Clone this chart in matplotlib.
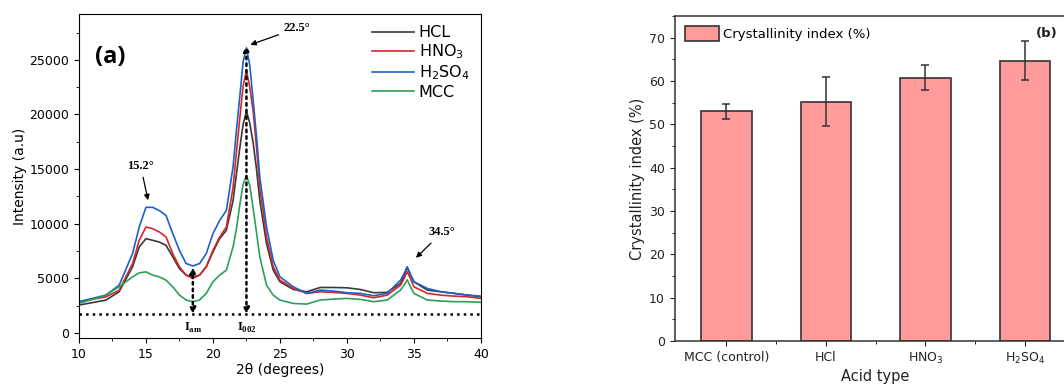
import numpy as np
import matplotlib
matplotlib.use('Agg')
import matplotlib.pyplot as plt
from matplotlib.ticker import MultipleLocator

# ---- XRD patterns (2theta in degrees, intensity in a.u.) ----
two_theta = [10, 12, 13, 14, 14.5, 15, 15.5, 16, 16.5, 17, 17.5, 18, 18.5, 19,
             19.5, 20, 20.5, 21, 21.5, 21.75, 22, 22.25, 22.5, 22.75, 23, 23.25,
             23.5, 24, 24.5, 25, 26, 27, 28, 29, 30, 31, 32, 33, 34, 34.25, 34.5,
             34.75, 35, 36, 37, 38, 39, 40]

hcl = [2550, 3000, 3770, 6050, 7870, 8630, 8480, 8320, 8020, 6960, 5890, 5290,
       5130, 5290, 6050, 7410, 8630, 9390, 12100, 14500, 16900, 19100, 20300,
       19200, 17400, 15000, 12100, 8170, 5740, 4680, 3980, 3770, 4160, 4160,
       4130, 3980, 3680, 3710, 4530, 5200, 6000, 5300, 4680, 3920, 3770, 3620,
       3460, 3310]

hno3 = [2850, 3300, 3900, 6350, 8480, 9700, 9540, 9240, 8780, 7260, 6050, 5290,
        4980, 5290, 6050, 7560, 8780, 9700, 13300, 16500, 19600, 22600, 24000,
        22500, 20300, 17000, 13300, 8780, 6050, 4830, 4070, 3620, 3770, 3710,
        3620, 3460, 3220, 3460, 4370, 4950, 5600, 4950, 4220, 3620, 3460, 3370,
        3310, 3160]

h2so4 = [2860, 3460, 4370, 7260, 9700, 11500, 11500, 11200, 10750, 9100, 7560,
         6350, 6130, 6350, 7260, 9080, 10300, 11200, 15200, 18500, 21600,
         24800, 26100, 24500, 21300, 18000, 14250, 9700, 6650, 5130, 4220, 3620,
         3920, 3830, 3680, 3620, 3400, 3620, 4830, 5400, 6050, 5300, 4680, 4070,
         3770, 3620, 3460, 3370]

mcc = [2700, 3460, 4220, 5130, 5500, 5590, 5290, 5130, 4830, 4220, 3460, 3010,
       2860, 3010, 3620, 4680, 5290, 5740, 7870, 9500, 11700, 13600, 14400,
       13500, 11400, 9200, 6960, 4370, 3460, 3010, 2700, 2640, 3010, 3100, 3160,
       3070, 2860, 3010, 3920, 4350, 4850, 4200, 3620, 3010, 2920, 2860, 2860,
       2800]

baseline = 1750
i_am_top = 6000
i_002_top = 26300

# ---- crystallinity index ----
acids = ['MCC (control)', 'HCl', 'HNO$_3$', 'H$_2$SO$_4$']
ci = [53.0, 55.2, 60.7, 64.7]
ci_err = [1.7, 5.6, 2.9, 4.4]

fig = plt.figure(figsize=(10.64, 3.87), dpi=100)

# ---------------- panel (a) ----------------
ax = fig.add_axes([0.0742, 0.127, 0.3778, 0.837])
ax.plot(two_theta, hcl, color='#3a3a3a', lw=1.2, label='HCL')
ax.plot(two_theta, hno3, color='#d62728', lw=1.2, label='HNO$_3$')
ax.plot(two_theta, h2so4, color='#1f5fc8', lw=1.2, label='H$_2$SO$_4$')
ax.plot(two_theta, mcc, color='#2ca05a', lw=1.2, label='MCC')

ax.axhline(baseline, color='black', ls=':', lw=1.8)
dbl = dict(arrowstyle='<|-|>', color='black', ls=':', lw=1.8,
           mutation_scale=8, shrinkA=0, shrinkB=0)
ax.annotate('', xy=(18.5, i_am_top), xytext=(18.5, baseline), arrowprops=dbl)
ax.annotate('', xy=(22.5, i_002_top), xytext=(22.5, baseline), arrowprops=dbl)

serif = dict(family='Liberation Serif', fontweight='bold', fontsize=9)
ax.text(18.5, 1100, 'I$_{\\mathregular{am}}$', ha='center', va='top', **serif)
ax.text(22.5, 1100, 'I$_{\\mathregular{002}}$', ha='center', va='top', **serif)

arr = dict(arrowstyle='-|>', color='black', lw=0.9, mutation_scale=8)
ax.annotate('22.5°', xy=(22.6, 26300), xytext=(26.3, 27900), ha='center',
            va='center', arrowprops=arr, **serif)
ax.annotate('15.2°', xy=(15.2, 11900), xytext=(14.6, 15300), ha='center',
            va='center', arrowprops=arr, **serif)
ax.annotate('34.5°', xy=(35.0, 6700), xytext=(37.1, 9200), ha='center',
            va='center', arrowprops=arr, **serif)

ax.text(12.3, 25300, '(a)', fontsize=17, fontweight='bold', ha='center',
        va='center', family='Open Sans')

ax.set_xlim(10, 40)
ax.set_ylim(-450, 29200)
ax.xaxis.set_major_locator(MultipleLocator(5))
ax.xaxis.set_minor_locator(MultipleLocator(2.5))
ax.yaxis.set_major_locator(MultipleLocator(5000))
ax.yaxis.set_minor_locator(MultipleLocator(2500))
ax.tick_params(labelsize=9, direction='out')
ax.set_xlabel('2θ (degrees)', fontsize=10, labelpad=2)
ax.set_ylabel('Intensity (a.u)', fontsize=10, labelpad=2)
ax.legend(loc='upper right', frameon=False, fontsize=11.5, handlelength=2.6,
          handletextpad=0.3, labelspacing=0.15, borderaxespad=0.3)

# ---------------- panel (b) ----------------
bx = fig.add_axes([0.634, 0.119, 0.378, 0.840])
x = np.arange(len(acids))
bx.bar(x, ci, width=0.51, color='#ff9b9b', edgecolor='#333333', lw=1.2,
       label='Crystallinity index (%)', zorder=2)
bx.errorbar(x, ci, yerr=ci_err, fmt='none', ecolor='#333333', elinewidth=1.1,
            capsize=3, capthick=1.1, zorder=3)
bx.text(3.22, 70.9, '(b)', fontsize=9.5, fontweight='bold', ha='center',
        va='center', color='#222222')

bx.set_xlim(-0.52, 3.52)
bx.set_ylim(0, 75)
bx.set_xticks(x)
bx.set_xticklabels(acids)
bx.set_xticks([0.5, 1.5, 2.5], minor=True)
bx.yaxis.set_major_locator(MultipleLocator(10))
bx.yaxis.set_minor_locator(MultipleLocator(5))
bx.tick_params(labelsize=9, direction='out', colors='#222222')
for s in bx.spines.values():
    s.set_color('#333333')
    s.set_linewidth(1.1)
bx.set_xlabel('Acid type', fontsize=10.5, labelpad=2, color='#222222')
bx.set_ylabel('Crystallinity index (%)', fontsize=10.5, labelpad=3,
              color='#222222')
bx.legend(loc='upper left', frameon=False, fontsize=9.5, handlelength=2.6,
          handleheight=1.3, handletextpad=0.3, borderaxespad=0.4)

fig.savefig('out.png', dpi=100)
